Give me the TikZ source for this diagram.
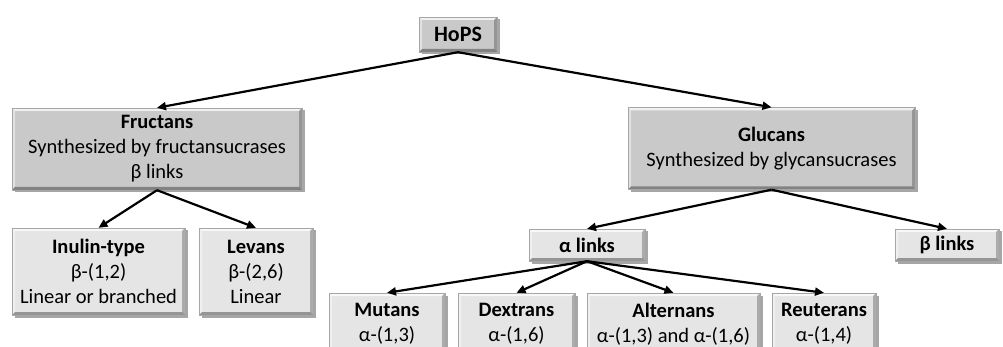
\documentclass[tikz,border=0pt]{standalone}
\usepackage{fontspec}
\setmainfont{Carlito}
\usetikzlibrary{arrows.meta,shadows}
\definecolor{topfill}{RGB}{201,201,201}
\definecolor{lowfill}{RGB}{229,229,229}
\tikzset{
  bevel/.style={path picture={
    \fill[white,opacity=.75] (path picture bounding box.north west) -- (path picture bounding box.north east) -- ([shift={(-3pt,-3pt)}]path picture bounding box.north east) -- ([shift={(3pt,-3pt)}]path picture bounding box.north west) -- cycle;
    \fill[white,opacity=.45] (path picture bounding box.north west) -- ([shift={(3pt,-3pt)}]path picture bounding box.north west) -- ([shift={(3pt,3pt)}]path picture bounding box.south west) -- (path picture bounding box.south west) -- cycle;
    \fill[black,opacity=.25] (path picture bounding box.north east) -- (path picture bounding box.south east) -- ([shift={(-3pt,3pt)}]path picture bounding box.south east) -- ([shift={(-3pt,-3pt)}]path picture bounding box.north east) -- cycle;
    \fill[black,opacity=.35] (path picture bounding box.south west) -- (path picture bounding box.south east) -- ([shift={(-3pt,3pt)}]path picture bounding box.south east) -- ([shift={(3pt,3pt)}]path picture bounding box.south west) -- cycle;
  }},
  box/.style={rectangle, inner sep=0pt, align=center, draw=black!35, line width=0.4pt,
    drop shadow={shadow xshift=2.5pt, shadow yshift=-2.5pt, opacity=.35, fill=black},
    bevel, font=\fontsize{20.5}{25}\selectfont, text=black},
  topbox/.style={box, fill=topfill},
  lowbox/.style={box, fill=lowfill},
  arr/.style={-{Triangle[length=9pt,width=8pt]}, line width=2.2pt, black},
}
\begin{document}
\begin{tikzpicture}[x=1pt,y=-1pt]
\useasboundingbox (0,0) rectangle (1003,347);
\clip (0,0) rectangle (1003,347);
\fill[white] (0,0) rectangle (1003,347);

\node[topbox, minimum width=78pt, minimum height=35pt, font=\fontsize{22}{26}\selectfont\bfseries] (hops) at (458,34.5) {HoPS};
\node[topbox, minimum width=290pt, minimum height=82pt] (fruc) at (157,149) {\textbf{Fructans}\\Synthesized by fructansucrases\\β links};
\node[topbox, minimum width=287pt, minimum height=82pt] (gluc) at (771.5,148.5) {\textbf{Glucans}\\Synthesized by glycansucrases};

\node[lowbox, minimum width=173pt, minimum height=87pt] (inul) at (98.5,271.5) {\textbf{Inulin-type}\\β-(1,2)\\Linear or branched};
\node[lowbox, minimum width=114pt, minimum height=87pt] (lev) at (256,271.5) {\textbf{Levans}\\β-(2,6)\\Linear};

\node[lowbox, minimum width=116pt, minimum height=32pt] (alpha) at (587,245) {\textbf{α links}};
\node[lowbox, minimum width=104pt, minimum height=32pt] (beta) at (947,245) {\textbf{β links}};

\node[lowbox, minimum width=116pt, minimum height=62pt] (mut) at (387,324) {\textbf{Mutans}\\α-(1,3)};
\node[lowbox, minimum width=117pt, minimum height=62pt] (dex) at (516.5,324) {\textbf{Dextrans}\\α-(1,6)};
\node[lowbox, minimum width=173pt, minimum height=62pt] (alt) at (673.5,324) {\textbf{Alternans}\\α-(1,3) and α-(1,6)};
\node[lowbox, minimum width=104pt, minimum height=62pt] (reu) at (824,324) {\textbf{Reuterans}\\α-(1,4)};

\draw[arr] (hops.south) -- (fruc.north);
\draw[arr] (hops.south) -- (gluc.north);
\draw[arr] (fruc.south) -- (inul.north);
\draw[arr] (fruc.south) -- (lev.north);
\draw[arr] (gluc.south) -- (alpha.north);
\draw[arr] (gluc.south) -- (beta.north);
\draw[arr] (alpha.south) -- (mut.north);
\draw[arr] (alpha.south) -- (dex.north);
\draw[arr] (alpha.south) -- (alt.north);
\draw[arr] (alpha.south) -- (reu.north);
\end{tikzpicture}
\end{document}
